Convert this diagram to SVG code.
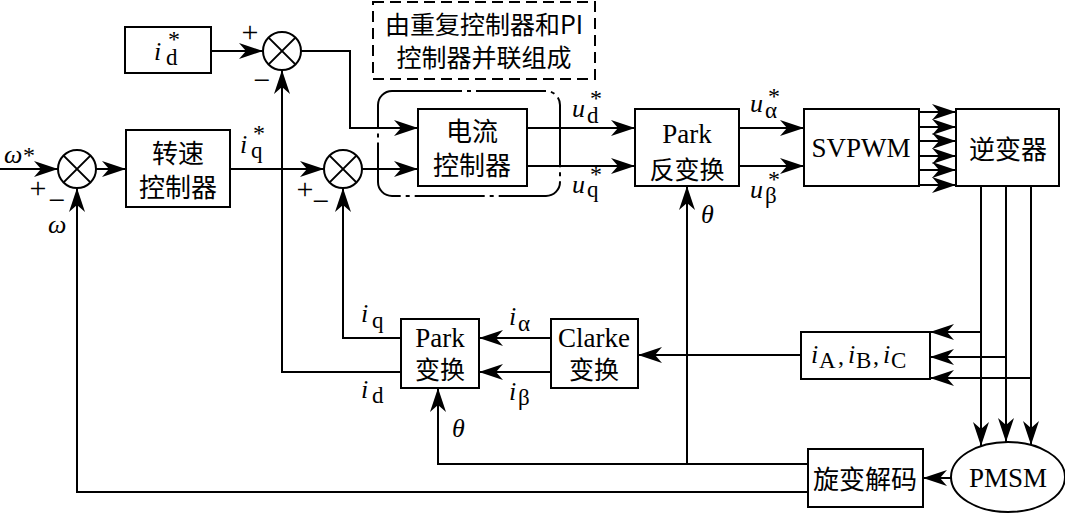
<svg xmlns="http://www.w3.org/2000/svg" width="1065" height="513" viewBox="0 0 1065 513">
<style>
.b{fill:#fff;stroke:#000;stroke-width:2}
.c{fill:none;stroke:#000;stroke-width:2}
.w{fill:none;stroke:#000;stroke-width:2}
.cn{font-family:"Noto Sans CJK SC",sans-serif;font-size:25px;text-anchor:middle;fill:#000}
.cn2{font-family:"Noto Sans CJK SC",sans-serif;font-size:26px;text-anchor:middle;fill:#000}
.lt{font-family:"Liberation Serif",serif;font-size:27px;text-anchor:middle;fill:#000}
.v{font-family:"Liberation Serif",serif;font-size:26px;font-style:italic;fill:#000}
.s{font-family:"Liberation Serif",serif;font-size:23px;fill:#000}
.st{font-family:"Liberation Serif",serif;font-size:24px;fill:#000}
.pm{font-family:"Liberation Serif",serif;font-size:30px;fill:#000;text-anchor:middle}
</style>
<defs>
<marker id="a" viewBox="0 0 24 16" refX="24" refY="8" markerWidth="24" markerHeight="16" markerUnits="userSpaceOnUse" orient="auto">
<path d="M0,0 L24,8 L0,16 L7,8 Z" fill="#000"/>
</marker>
</defs>
<rect width="1065" height="513" fill="#fff"/>

<g id="connectors" class="w">
<path d="M0,169 L58,169" marker-end="url(#a)"/>
<path d="M96,169 L126,169" marker-end="url(#a)"/>
<path d="M230,169 L324,169" marker-end="url(#a)"/>
<path d="M211,51 L263,51" marker-end="url(#a)"/>
<path d="M301,51 L350,51 L350,128 L418,128" marker-end="url(#a)"/>
<path d="M362,169 L418,169" marker-end="url(#a)"/>
<path d="M527,128 L635,128" marker-end="url(#a)"/>
<path d="M527,166 L635,166" marker-end="url(#a)"/>
<path d="M739,128 L804,128" marker-end="url(#a)"/>
<path d="M739,166 L804,166" marker-end="url(#a)"/>
<path d="M919,112 L956,112" marker-end="url(#a)"/>
<path d="M919,127 L956,127" marker-end="url(#a)"/>
<path d="M919,141 L956,141" marker-end="url(#a)"/>
<path d="M919,156 L956,156" marker-end="url(#a)"/>
<path d="M919,170 L956,170" marker-end="url(#a)"/>
<path d="M919,185 L956,185" marker-end="url(#a)"/>
<path d="M981,186 L981,446" marker-end="url(#a)"/>
<path d="M1006,186 L1006,442" marker-end="url(#a)"/>
<path d="M1031,186 L1031,445" marker-end="url(#a)"/>
<path d="M981,332 L930,332" marker-end="url(#a)"/>
<path d="M1006,357 L930,357" marker-end="url(#a)"/>
<path d="M1031,378 L930,378" marker-end="url(#a)"/>
<path d="M801,355 L638,355" marker-end="url(#a)"/>
<path d="M551,338 L479,338" marker-end="url(#a)"/>
<path d="M551,372 L479,372" marker-end="url(#a)"/>
<path d="M401,338 L343,338 L343,188" marker-end="url(#a)"/>
<path d="M401,372 L282,372 L282,70" marker-end="url(#a)"/>
<path d="M951,478 L923,478" marker-end="url(#a)"/>
<path d="M808,464 L438,464 L438,388" marker-end="url(#a)"/>
<path d="M687,464 L687,186" marker-end="url(#a)"/>
<path d="M808,492 L77,492 L77,188" marker-end="url(#a)"/>
</g>

<g id="note">
<rect x="373" y="2" width="222" height="77" class="c" stroke-dasharray="11 6"/>
<text x="484" y="34" class="cn">由重复控制器和PI</text>
<text x="484" y="67" class="cn">控制器并联组成</text>
</g>

<g id="group-box">
<rect x="378" y="91" width="182" height="105" rx="14" class="c" stroke-dasharray="70 5 4 5"/>
</g>

<g id="sum1">
<circle cx="282" cy="51" r="19" class="b"/>
<path d="M268.6,37.6 L295.4,64.4 M295.4,37.6 L268.6,64.4" class="c"/>
<text x="250" y="42" class="pm">+</text>
<text x="262" y="90" class="pm">−</text>
</g>
<g id="sum2">
<circle cx="77" cy="169" r="19" class="b"/>
<path d="M63.6,155.6 L90.4,182.4 M90.4,155.6 L63.6,182.4" class="c"/>
<text x="38" y="198" class="pm">+</text>
<text x="57" y="210" class="pm">−</text>
</g>
<g id="sum3">
<circle cx="343" cy="169" r="19" class="b"/>
<path d="M329.6,155.6 L356.4,182.4 M356.4,155.6 L329.6,182.4" class="c"/>
<text x="305" y="199" class="pm">+</text>
<text x="321" y="211" class="pm">−</text>
</g>

<g id="id-ref">
<rect x="125" y="27" width="86" height="46" class="b"/>
<text x="154" y="60" class="v">i</text>
<text x="166" y="65" class="s">d</text>
<text x="168" y="47" class="st">*</text>
</g>

<g id="speed-ctrl">
<rect x="126" y="130" width="104" height="77" class="b"/>
<text x="178" y="163" class="cn2">转速</text>
<text x="178" y="197" class="cn2">控制器</text>
</g>

<g id="current-ctrl">
<rect x="418" y="109" width="109" height="77" class="b"/>
<text x="472" y="141" class="cn2">电流</text>
<text x="472" y="175" class="cn2">控制器</text>
</g>

<g id="park-inv">
<rect x="635" y="109" width="104" height="77" class="b"/>
<text x="687" y="143" class="lt">Park</text>
<text x="687" y="179" class="cn">反变换</text>
</g>

<g id="svpwm">
<rect x="804" y="109" width="115" height="77" class="b"/>
<text x="861" y="157" class="lt">SVPWM</text>
</g>

<g id="inverter">
<rect x="956" y="109" width="103" height="77" class="b"/>
<text x="1008" y="159" class="cn2">逆变器</text>
</g>

<g id="iabc">
<rect x="801" y="332" width="129" height="47" class="b"/>
<text x="811" y="363" class="v">i</text><text x="819" y="368" class="s">A</text>
<text x="838" y="364" class="st">,</text>
<text x="848" y="363" class="v">i</text><text x="856" y="368" class="s">B</text>
<text x="873" y="364" class="st">,</text>
<text x="883" y="363" class="v">i</text><text x="891" y="368" class="s">C</text>
</g>

<g id="clarke">
<rect x="551" y="319" width="87" height="69" class="b"/>
<text x="594" y="347" class="lt" font-size="26">Clarke</text>
<text x="594" y="379" class="cn">变换</text>
</g>

<g id="park">
<rect x="401" y="319" width="78" height="69" class="b"/>
<text x="440" y="347" class="lt">Park</text>
<text x="440" y="379" class="cn">变换</text>
</g>

<g id="resolver">
<rect x="808" y="449" width="115" height="58" class="b"/>
<text x="865" y="489" class="cn2">旋变解码</text>
</g>

<g id="pmsm">
<ellipse cx="1008" cy="477" rx="57" ry="35" class="b"/>
<text x="1008" y="487" class="lt">PMSM</text>
</g>

<g id="labels">
<text x="4" y="163" class="v">ω</text><text x="23" y="163" class="st">*</text>
<text x="48" y="233" class="v" font-size="22">ω</text>
<text x="240" y="153" class="v">i</text><text x="251" y="158" class="s">q</text><text x="253" y="141" class="st">*</text>
<text x="572" y="117" class="v">u</text><text x="587" y="123" class="s">d</text><text x="590" y="106" class="st">*</text>
<text x="572" y="193" class="v">u</text><text x="587" y="197" class="s">q</text><text x="590" y="182" class="st">*</text>
<text x="750" y="112" class="v">u</text><text x="765" y="118" class="s">α</text><text x="768" y="104" class="st">*</text>
<text x="750" y="198" class="v">u</text><text x="765" y="203" class="s">β</text><text x="768" y="187" class="st">*</text>
<text x="701" y="223" class="v" font-size="22">θ</text>
<text x="361" y="322" class="v">i</text><text x="372" y="328" class="s">q</text>
<text x="361" y="398" class="v">i</text><text x="372" y="403" class="s">d</text>
<text x="509" y="325" class="v">i</text><text x="518" y="331" class="s">α</text>
<text x="509" y="400" class="v">i</text><text x="518" y="405" class="s">β</text>
<text x="452" y="437" class="v" font-size="22">θ</text>
</g>
</svg>
